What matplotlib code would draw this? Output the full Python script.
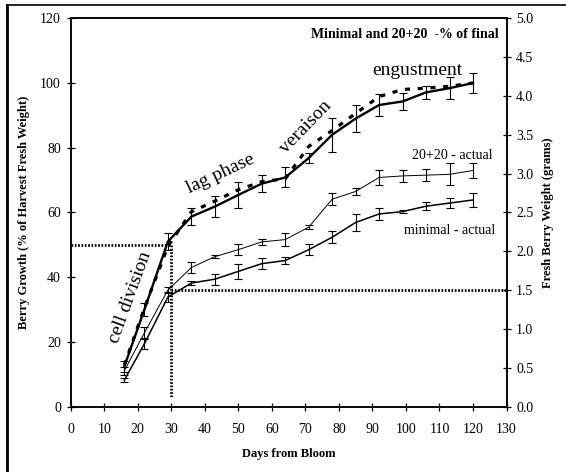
import matplotlib.pyplot as plt
from matplotlib.lines import Line2D

plt.rcParams['font.family'] = ['Liberation Serif', 'DejaVu Serif']

# Sampling days after bloom
days = [16, 22, 29, 36, 43, 50, 57, 64, 71, 78, 85, 92, 99, 106, 113, 120]

# Percent of final fresh weight (left axis)
minimal_pct = [12.4, 30, 51, 58.7, 61.8, 65.4, 68.9, 70.8, 76.8, 84, 89, 93.2, 94.3, 97.1, 98.4, 100]
minimal_pct_err = [1.6, 2.1, 2.6, 2.7, 3.3, 3.9, 2.6, 3.1, 1.5, 5.2, 4.3, 3.3, 2.5, 2.0, 3.5, 3.1]
pct_2020 = [12.8, 30.5, 49.5, 60.2, 63.5, 67, 69.5, 70.4, 80.4, 85.3, 90.6, 95.8, 98, 98.4, 99, 100]

# Actual fresh berry weight in grams (right axis)
actual_2020 = [0.46, 0.95, 1.50, 1.79, 1.93, 2.02, 2.12, 2.15, 2.31, 2.67, 2.77, 2.95, 2.97, 2.98, 2.99, 3.04]
actual_2020_err = [0.05, 0.075, 0.04, 0.075, 0.02, 0.075, 0.04, 0.085, 0.03, 0.075, 0.05, 0.1, 0.075, 0.075, 0.14, 0.1]
actual_minimal = [0.34, 0.81, 1.41, 1.59, 1.64, 1.74, 1.84, 1.88, 2.02, 2.18, 2.37, 2.48, 2.51, 2.58, 2.62, 2.66]
actual_minimal_err = [0.03, 0.075, 0.065, 0.03, 0.07, 0.1, 0.07, 0.05, 0.07, 0.08, 0.11, 0.075, 0.02, 0.05, 0.065, 0.085]

x_ticks = list(range(0, 131, 10))
left_ticks = list(range(0, 121, 20))
right_ticks = [i * 0.5 for i in range(11)]

fig = plt.figure(figsize=(5.66, 4.72), dpi=100)
ax = fig.add_axes([70.7 / 566, 1 - 406.5 / 472, 435.8 / 566, 388.2 / 472])
ax2 = ax.twinx()

# percent-of-final curves
ax.errorbar(days, minimal_pct, yerr=minimal_pct_err, color='black', lw=1.7,
            elinewidth=0.8, capsize=3, capthick=0.8, zorder=4)
ax.plot(days, pct_2020, color='black', lw=2.3, dashes=(1.6, 2.4), zorder=3)

# actual weights
ax2.errorbar(days, actual_2020, yerr=actual_2020_err, color='black', lw=0.7,
             elinewidth=0.8, capsize=3, capthick=0.8)
ax2.errorbar(days, actual_minimal, yerr=actual_minimal_err, color='black', lw=1.1,
             elinewidth=0.8, capsize=3, capthick=0.8)

# guide lines at end of cell division
dot = dict(color='black', lw=2, linestyle=(0, (0.6, 0.6)))
ax.plot([0, 30], [50, 50], **dot)
ax.plot([30, 30], [50, 3], **dot)
ax2.plot([30, 130], [1.5, 1.5], **dot)

ax.set_xlim(0, 130)
ax.set_ylim(0, 120)
ax2.set_ylim(0, 5)
ax.set_xticks(x_ticks)
ax.set_yticks(left_ticks)
ax2.set_yticks(right_ticks)
ax2.set_yticklabels([f'{v:.1f}' for v in right_ticks])

for a in (ax, ax2):
    a.tick_params(direction='inout', length=6, width=0.9, labelsize=10, pad=4)
    for s in a.spines.values():
        s.set_linewidth(1.1)
ax.tick_params(axis='x', pad=9)

ax.set_xlabel('Days from Bloom', fontsize=9, fontweight='bold', labelpad=8.5)
ax.set_ylabel('Berry Growth (% of Harvest Fresh Weight)', fontsize=9,
              fontweight='bold', labelpad=7)
ax2.set_ylabel('Fresh Berry Weight (grams)', fontsize=9, fontweight='bold', labelpad=6)

# annotations
ax.text(127.7, 114.9, 'Minimal and 20+20  -% of final', fontsize=10,
        fontweight='bold', ha='right', va='center')
ax.text(103.5, 103.9, 'engustment', fontsize=14, ha='center', va='center')
ax.text(70, 86.5, 'veraison', fontsize=14, ha='center', va='center', rotation=46)
ax.text(44.6, 72, 'lag phase', fontsize=14, ha='center', va='center', rotation=25)
ax.text(17.7, 33.6, 'cell division', fontsize=14, ha='center', va='center', rotation=70)
ax2.text(113.9, 3.23, '20+20 - actual', fontsize=10, ha='center', va='center')
ax2.text(113.1, 2.27, 'minimal - actual', fontsize=10, ha='center', va='center')

# frame around the figure
fig.add_artist(Line2D([7 / 566, 1], [1 - 5 / 472, 1 - 5 / 472], color='black', lw=1.2))
fig.add_artist(Line2D([7 / 566, 7 / 566], [0, 1 - 5 / 472], color='black', lw=2))

fig.savefig('out.png', dpi=100)
